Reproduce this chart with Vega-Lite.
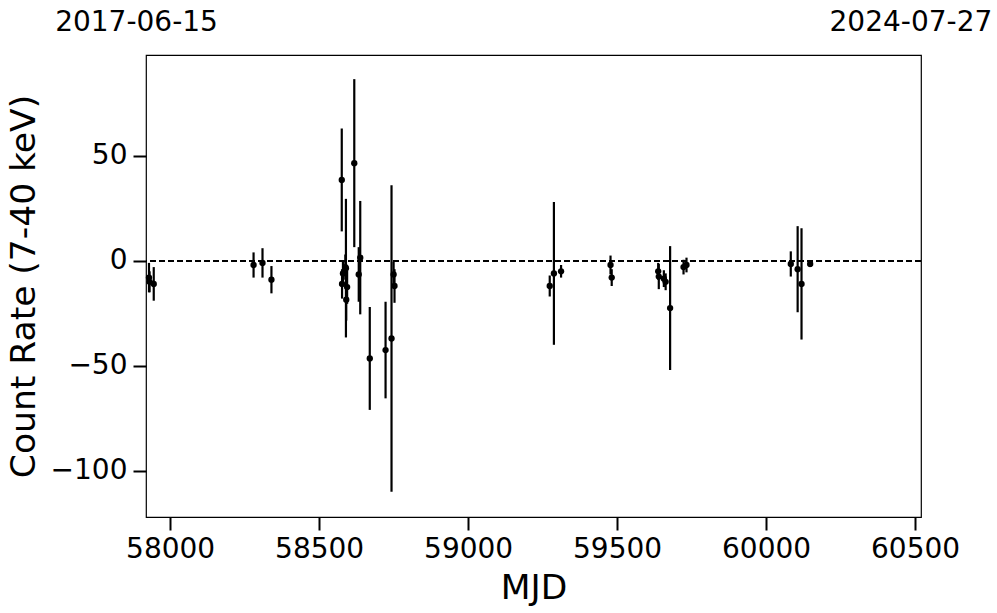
{
  "$schema": "https://vega.github.io/schema/vega-lite/v6.json",
  "autosize": {"type": "none"},
  "padding": {"left": 146, "top": 55, "right": 76, "bottom": 96},
  "width": 775,
  "height": 462,
  "background": "white",
  "config": {
    "font": "DejaVu Sans",
    "view": {"stroke": "black", "strokeWidth": 1.2},
    "axis": {
      "labelFont": "DejaVu Sans",
      "titleFont": "DejaVu Sans",
      "labelFontSize": 28,
      "titleFontSize": 34.5,
      "labelColor": "black",
      "titleColor": "black",
      "titleFontWeight": "normal",
      "tickColor": "black",
      "tickWidth": 2,
      "tickSize": 13,
      "labelFlush": false,
      "labelOverlap": false,
      "domain": false,
      "grid": false
    }
  },
  "data": {
    "values": [
      {"mjd": 57929, "rate": -8, "err": 7},
      {"mjd": 57931, "rate": -10, "err": 5},
      {"mjd": 57945, "rate": -11, "err": 8},
      {"mjd": 58280, "rate": -2, "err": 6},
      {"mjd": 58310, "rate": -1, "err": 7},
      {"mjd": 58340, "rate": -9, "err": 6.5},
      {"mjd": 58576, "rate": 38.5, "err": 24.5},
      {"mjd": 58577, "rate": -11, "err": 7},
      {"mjd": 58580, "rate": -6, "err": 6},
      {"mjd": 58588, "rate": -3, "err": 6},
      {"mjd": 58590, "rate": -3.5, "err": 33},
      {"mjd": 58594, "rate": -12.5, "err": 8},
      {"mjd": 58591, "rate": -18.5, "err": 10},
      {"mjd": 58618, "rate": 46.5, "err": 40},
      {"mjd": 58633, "rate": -6.5, "err": 13},
      {"mjd": 58638, "rate": 1.5, "err": 27},
      {"mjd": 58670, "rate": -46.5, "err": 24.5},
      {"mjd": 58723, "rate": -42.5, "err": 23},
      {"mjd": 58743, "rate": -37, "err": 73},
      {"mjd": 58750, "rate": -6.5, "err": 6},
      {"mjd": 58753, "rate": -12, "err": 8},
      {"mjd": 59274, "rate": -12, "err": 5},
      {"mjd": 59288, "rate": -6, "err": 34},
      {"mjd": 59312, "rate": -5, "err": 3},
      {"mjd": 59478, "rate": -2, "err": 4.5},
      {"mjd": 59482, "rate": -8, "err": 4},
      {"mjd": 59638, "rate": -5, "err": 4},
      {"mjd": 59640, "rate": -7.5, "err": 6},
      {"mjd": 59657, "rate": -8.5, "err": 4},
      {"mjd": 59663, "rate": -10, "err": 4},
      {"mjd": 59678, "rate": -22.5, "err": 29.5},
      {"mjd": 59723, "rate": -3, "err": 3.5},
      {"mjd": 59733, "rate": -2, "err": 3.5},
      {"mjd": 60083, "rate": -1.5, "err": 6},
      {"mjd": 60106, "rate": -4, "err": 20.5},
      {"mjd": 60119, "rate": -11, "err": 26.5},
      {"mjd": 60148, "rate": -1.5, "err": 1.5}
    ]
  },
  "resolve": {"axis": {"x": "independent"}},
  "layer": [
    {
      "mark": {"type": "rule", "color": "black", "strokeWidth": 1.5, "strokeDash": [6, 3]},
      "encoding": {"y": {"datum": 0}}
    },
    {
      "mark": {"type": "errorbar", "ticks": false, "rule": {"color": "black", "strokeWidth": 2.2}},
      "encoding": {
        "x": {
          "field": "mjd", "type": "quantitative",
          "scale": {"domain": [57919, 60520], "nice": false, "zero": false},
          "axis": {"orient": "bottom", "title": "MJD", "values": [58000, 58500, 59000, 59500, 60000, 60500], "format": "d", "labelPadding": 5, "titlePadding": 8}
        },
        "y": {
          "field": "rate", "type": "quantitative",
          "scale": {"domain": [-122, 98], "nice": false, "zero": false},
          "axis": {"title": "Count Rate (7-40 keV)", "values": [-100, -50, 0, 50], "labelPadding": 6, "titlePadding": 9}
        },
        "yError": {"field": "err"}
      }
    },
    {
      "mark": {"type": "point", "filled": true, "color": "black", "opacity": 1, "size": 40},
      "encoding": {
        "x": {
          "field": "mjd", "type": "quantitative",
          "scale": {"domain": [57919, 60520], "nice": false, "zero": false},
          "axis": {"orient": "top", "title": null, "values": [57919, 60518], "ticks": false, "tickSize": 0, "labelPadding": 19, "labelOffset": -10, "labelFlush": false, "labelFontSize": 28, "labelExpr": "datum.value < 59000 ? '2017-06-15' : '2024-07-27'"}
        },
        "y": {"field": "rate", "type": "quantitative"}
      }
    }
  ]
}
